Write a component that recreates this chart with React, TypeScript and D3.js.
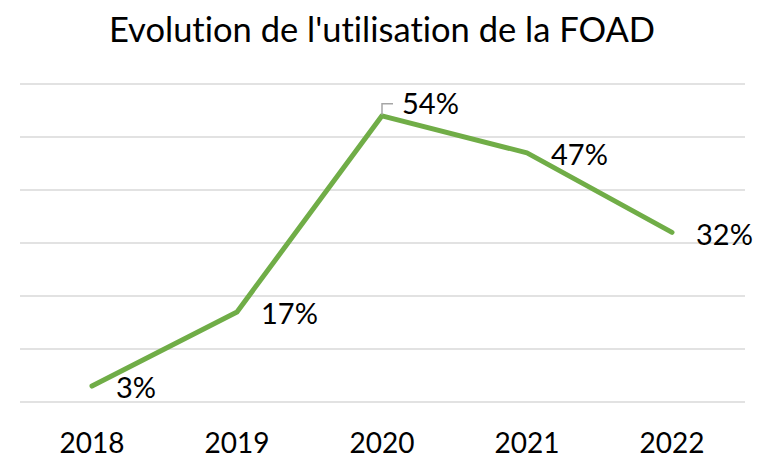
import React from "react";
import * as d3 from "d3";

const title = "Evolution de l'utilisation de la FOAD";
const years = ["2018", "2019", "2020", "2021", "2022"];
const values = [3, 17, 54, 47, 32];
const gridTicks = [0, 10, 20, 30, 40, 50, 60];

const W = 758;
const H = 458;
const FONT = "Lato, 'Open Sans', sans-serif";

export default function App() {
  const x = d3.scalePoint<string>().domain(years).range([92, 672]);
  const y = d3.scaleLinear().domain([0, 60]).range([402, 84]);
  const line = d3
    .line<number>()
    .x((_, i) => x(years[i]) as number)
    .y((d) => y(d));

  return (
    <svg
      width={W}
      height={H}
      style={{ position: "absolute", left: 0, top: 0, background: "#fff", fontVariantLigatures: "none" }}
      fontFamily={FONT}
    >
      <rect width={W} height={H} fill="#fff" />
      <text x={382} y={42} textAnchor="middle" fontSize={34.5} fill="#000">
        {title}
      </text>
      {gridTicks.map((t) => (
        <line key={t} x1={20} x2={745} y1={y(t)} y2={y(t)} stroke="#D9D9D9" strokeWidth={1.5} />
      ))}
      {years.map((yr) => (
        <text key={yr} x={x(yr)} y={453} textAnchor="middle" fontSize={28} fill="#000">
          {yr}
        </text>
      ))}
      <path d={line(values) || ""} fill="none" stroke="#70AD47" strokeWidth={5} strokeLinejoin="round" strokeLinecap="round" />
      {values.map((v, i) => {
        const px = x(years[i]) as number;
        const py = y(v);
        if (i === 2) {
          return (
            <g key={i}>
              <polyline
                points={`${px},${py - 1} ${px},${py - 12} ${px + 11},${py - 12}`}
                fill="none"
                stroke="#A6A6A6"
                strokeWidth={1.5}
              />
              <text x={px + 20} y={py - 12} dy="0.35em" fontSize={29} fill="#000">
                {`${v}%`}
              </text>
            </g>
          );
        }
        return (
          <text key={i} x={px + 24} y={py + 2} dy="0.35em" fontSize={29} fill="#000">
            {`${v}%`}
          </text>
        );
      })}
    </svg>
  );
}
